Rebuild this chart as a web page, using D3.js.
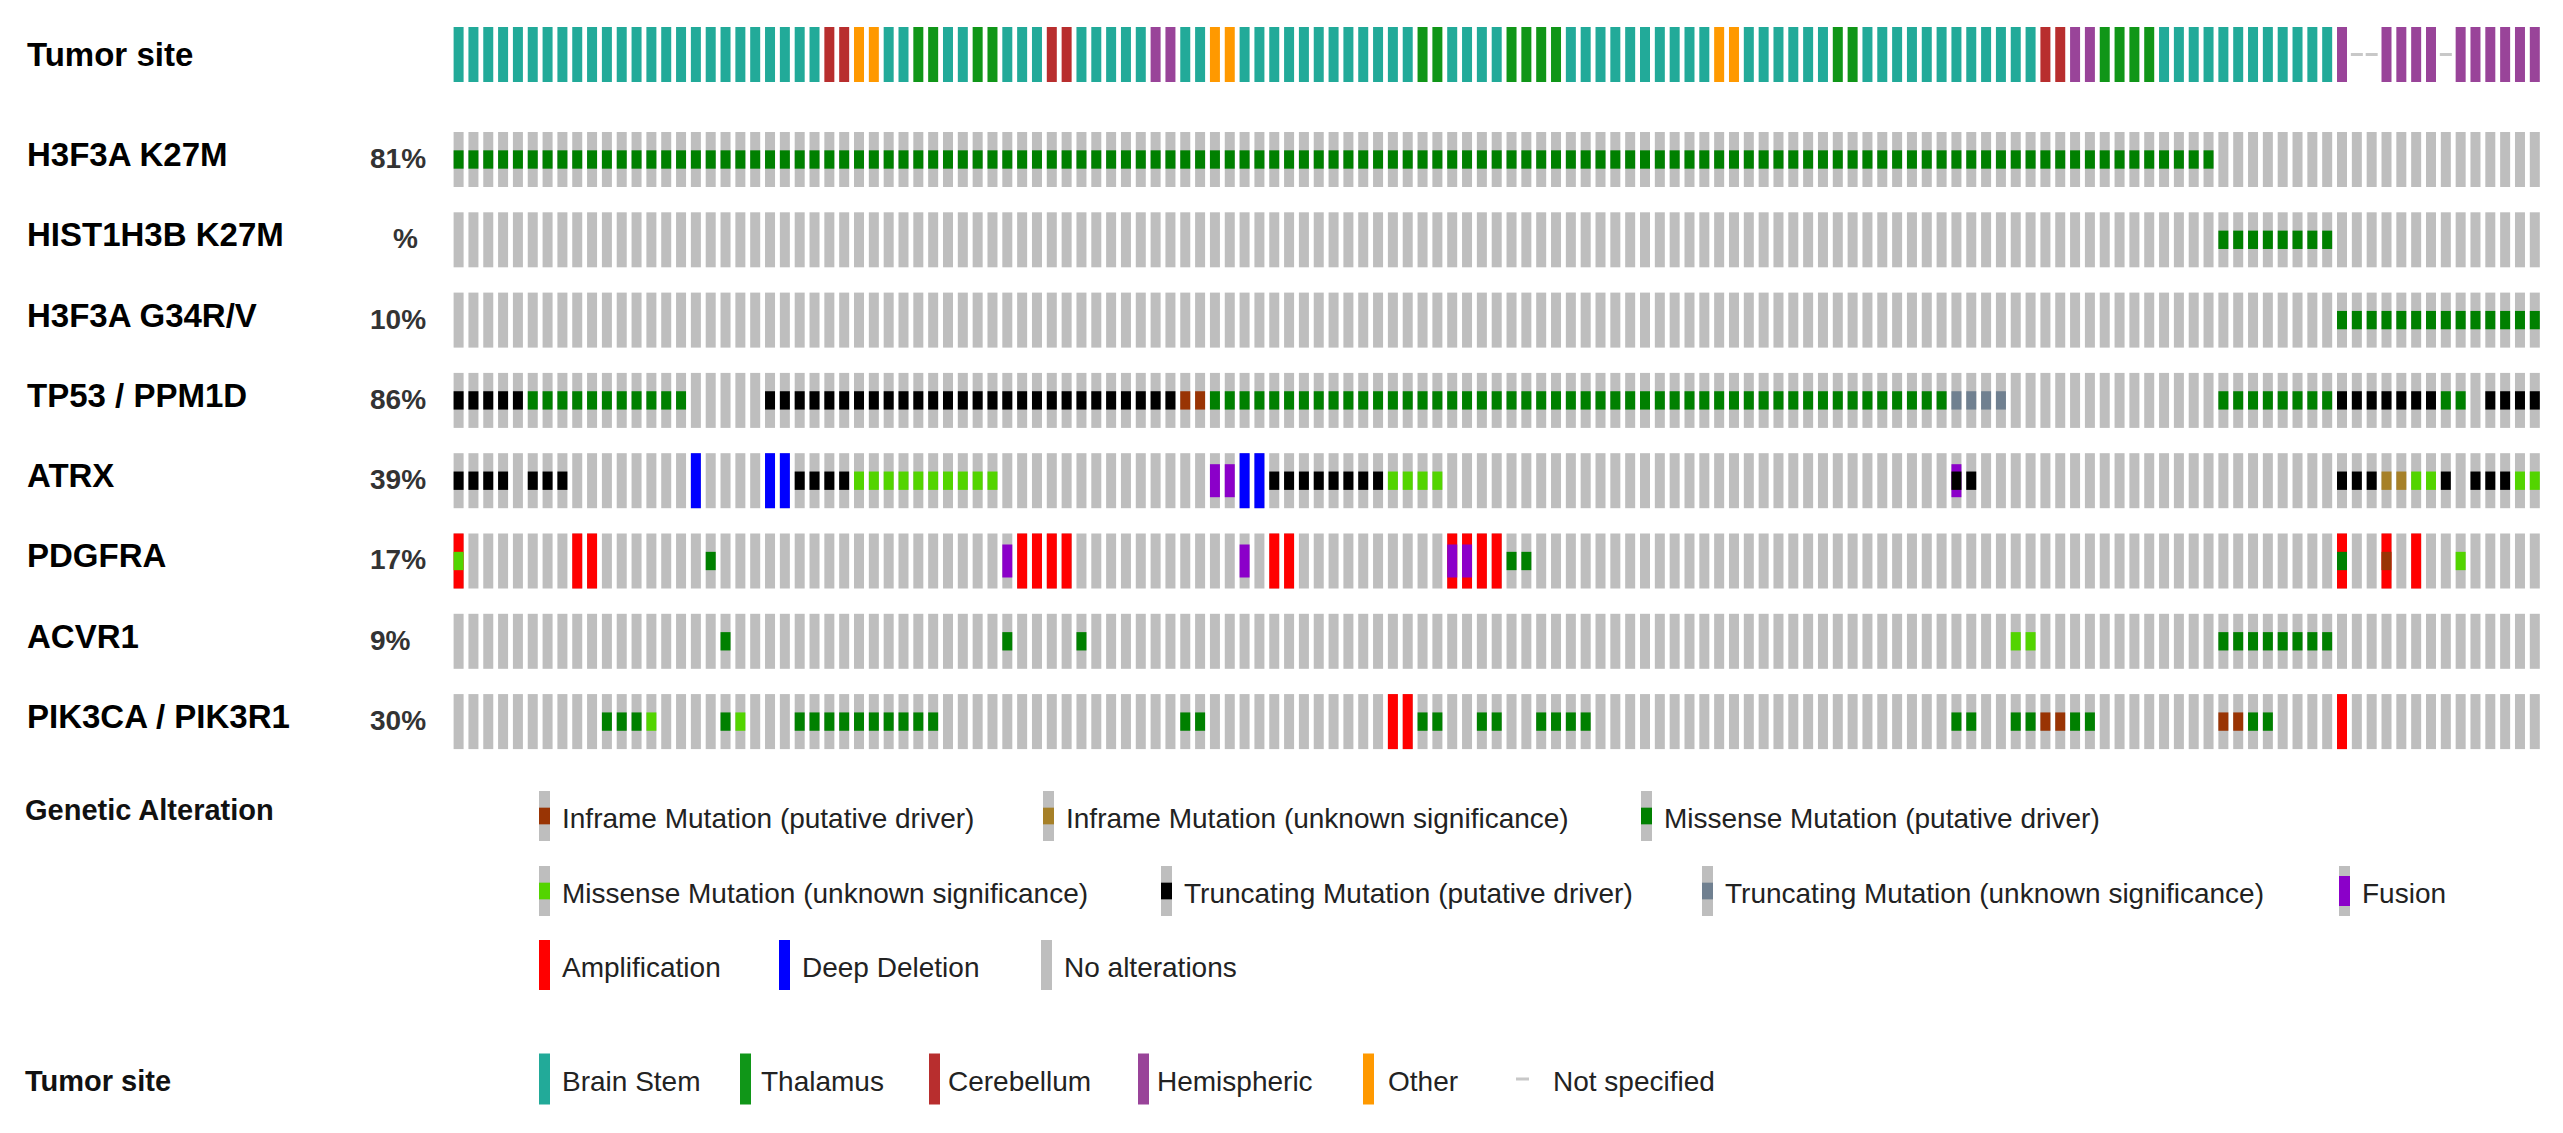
<!DOCTYPE html>
<html>
<head>
<meta charset="utf-8">
<script src="https://cdn.jsdelivr.net/npm/d3@7"></script>
<style>
  html, body { margin: 0; padding: 0; background: #ffffff; }
  svg { display: block; }
  text { font-family: "Liberation Sans", Arial, Helvetica, sans-serif; }
</style>
</head>
<body>
<svg id="chart" width="2563" height="1133"></svg>
<script>
// ================= DATA =================
const sampleCount = 141;

const geneLabels = ["H3F3A K27M", "HIST1H3B K27M", "H3F3A G34R/V", "TP53 / PPM1D",
                    "ATRX", "PDGFRA", "ACVR1", "PIK3CA / PIK3R1"];
const pctLabels  = ["81%", "%", "10%", "86%", "39%", "17%", "9%", "30%"];

// Tumor site per sample, as runs [site, number of consecutive samples]
const tumorSiteRuns = [
  ["Brain Stem",25],["Cerebellum",2],["Other",2],["Brain Stem",2],["Thalamus",2],
  ["Brain Stem",2],["Thalamus",2],["Brain Stem",3],["Cerebellum",2],["Brain Stem",5],
  ["Hemispheric",2],["Brain Stem",2],["Other",2],["Brain Stem",12],["Thalamus",2],
  ["Brain Stem",4],["Thalamus",4],["Brain Stem",10],["Other",2],["Brain Stem",6],
  ["Thalamus",2],["Brain Stem",12],["Cerebellum",2],["Hemispheric",2],["Thalamus",4],
  ["Brain Stem",12],["Hemispheric",1],["Not specified",2],["Hemispheric",4],
  ["Not specified",1],["Hemispheric",6]
];

// Mutation layer per gene, runs [type, count]
// MIS missense putative, mis missense unknown, TRU truncating putative,
// tru truncating unknown, INF inframe putative, inf inframe unknown, "-" none
const mutH3F3A_K27M = [["MIS",119],["-",22]];
const mutHIST1H3B   = [["-",119],["MIS",8],["-",14]];
const mutH3F3A_G34  = [["-",127],["MIS",14]];
const mutTP53       = [["TRU",5],["MIS",11],["-",5],["TRU",28],["INF",2],["MIS",50],
                       ["tru",4],["-",14],["MIS",8],["TRU",7],["MIS",2],["-",1],["TRU",4]];
const mutATRX       = [["TRU",4],["-",1],["TRU",3],["-",15],["TRU",4],["mis",10],["-",18],
                       ["TRU",8],["mis",4],["-",34],["TRU",2],["-",24],["TRU",3],["inf",2],
                       ["mis",2],["TRU",1],["-",1],["TRU",3],["mis",2]];
const mutPDGFRA     = [["mis",1],["-",16],["MIS",1],["-",53],["MIS",2],["-",54],["MIS",1],
                       ["-",2],["INF",1],["-",4],["mis",1],["-",5]];
const mutACVR1      = [["-",18],["MIS",1],["-",18],["MIS",1],["-",4],["MIS",1],["-",62],
                       ["mis",2],["-",12],["MIS",8],["-",14]];
const mutPIK3CA     = [["-",10],["MIS",3],["mis",1],["-",4],["MIS",1],["mis",1],["-",3],
                       ["MIS",10],["-",16],["MIS",2],["-",14],["MIS",2],["-",2],["MIS",2],
                       ["-",2],["MIS",4],["-",24],["MIS",2],["-",2],["MIS",2],["INF",2],
                       ["MIS",2],["-",8],["INF",2],["MIS",2],["-",18]];

// Copy-number layer (AMP amplification, DEL deep deletion)
const cnaATRX   = [["-",16],["DEL",1],["-",4],["DEL",2],["-",30],["DEL",2],["-",86]];
const cnaPDGFRA = [["AMP",1],["-",7],["AMP",2],["-",28],["AMP",4],["-",13],["AMP",2],
                   ["-",10],["AMP",4],["-",56],["AMP",1],["-",2],["AMP",1],["-",1],
                   ["AMP",1],["-",8]];
const cnaPIK3CA = [["-",63],["AMP",2],["-",62],["AMP",1],["-",13]];

// Fusion layer
const fusATRX   = [["-",51],["FUS",2],["-",48],["FUS",1],["-",39]];
const fusPDGFRA = [["-",37],["FUS",1],["-",15],["FUS",1],["-",13],["FUS",2],["-",72]];

// Legends
const alterationLegend = [
  ["INF", "Inframe Mutation (putative driver)"],
  ["inf", "Inframe Mutation (unknown significance)"],
  ["MIS", "Missense Mutation (putative driver)"],
  ["mis", "Missense Mutation (unknown significance)"],
  ["TRU", "Truncating Mutation (putative driver)"],
  ["tru", "Truncating Mutation (unknown significance)"],
  ["FUS", "Fusion"],
  ["AMP", "Amplification"],
  ["DEL", "Deep Deletion"],
  ["NONE", "No alterations"]
];
const tumorLegend = ["Brain Stem", "Thalamus", "Cerebellum", "Hemispheric", "Other", "Not specified"];

// ================= STYLE =================
const altColors = {
  MIS: "#008000", mis: "#53d400", TRU: "#000000", tru: "#708090",
  INF: "#993404", inf: "#a68028", FUS: "#8b00c9", AMP: "#ff0000",
  DEL: "#0000ff", NONE: "#bebebe"
};
const siteColors = {
  "Brain Stem": "#22aa99", "Thalamus": "#109618", "Cerebellum": "#b82e2e",
  "Hemispheric": "#994499", "Other": "#ff9900", "Not specified": "#c8c8c8"
};

// ================= BUILD TABLE =================
function expand(runs) {
  const out = [];
  (runs || []).forEach(([v, n]) => { for (let k = 0; k < n; k++) out.push(v); });
  while (out.length < sampleCount) out.push("-");
  return out;
}
const tumorSite = expand(tumorSiteRuns);
const mutLayers = [mutH3F3A_K27M, mutHIST1H3B, mutH3F3A_G34, mutTP53, mutATRX, mutPDGFRA, mutACVR1, mutPIK3CA];
const cnaLayers = [null, null, null, null, cnaATRX, cnaPDGFRA, null, cnaPIK3CA];
const fusLayers = [null, null, null, null, fusATRX, fusPDGFRA, null, null];

const tracks = geneLabels.map((g, r) => ({
  gene: g, pct: pctLabels[r],
  mut: expand(mutLayers[r]), cna: expand(cnaLayers[r]), fus: expand(fusLayers[r])
}));

// ================= DRAW =================
const svg = d3.select("#chart");
svg.append("rect").attr("width", 2563).attr("height", 1133).attr("fill", "#fff");

const x = d3.scaleBand()
  .domain(d3.range(sampleCount))
  .range([453.6, 2539.8])
  .paddingInner(0.326)
  .paddingOuter(0);

const y = d3.scaleBand()
  .domain(geneLabels)
  .range([132, 749.1])
  .paddingInner(0.315)
  .paddingOuter(0);

const bw = x.bandwidth();
const bh = y.bandwidth();

// Tumor site track
const tumorTop = 27, tumorH = 55;
const tumorG = svg.append("g");
tumorG.selectAll("rect.site")
  .data(tumorSite.map((s, i) => ({ s, i })).filter(d => d.s !== "Not specified"))
  .join("rect")
  .attr("x", d => x(d.i)).attr("y", tumorTop)
  .attr("width", bw).attr("height", tumorH)
  .attr("fill", d => siteColors[d.s]);
tumorG.selectAll("rect.ns")
  .data(tumorSite.map((s, i) => ({ s, i })).filter(d => d.s === "Not specified"))
  .join("rect")
  .attr("x", d => x(d.i) - 1).attr("y", tumorTop + tumorH / 2 - 1.5)
  .attr("width", bw + 2).attr("height", 3)
  .attr("fill", siteColors["Not specified"]);

svg.append("text").attr("x", 27).attr("y", 66)
  .attr("font-size", 33).attr("font-weight", "bold").attr("fill", "#000")
  .text("Tumor site");

// Gene tracks
const trackG = svg.selectAll("g.track").data(tracks).join("g").attr("class", "track");

trackG.each(function (t) {
  const g = d3.select(this);
  const y0 = y(t.gene);
  const cells = d3.range(sampleCount);
  g.selectAll("rect.bg").data(cells).join("rect").attr("class", "bg")
    .attr("x", i => x(i)).attr("y", y0).attr("width", bw).attr("height", bh)
    .attr("fill", altColors.NONE);
  g.selectAll("rect.cna").data(cells.filter(i => t.cna[i] !== "-")).join("rect").attr("class", "cna")
    .attr("x", i => x(i)).attr("y", y0).attr("width", bw).attr("height", bh)
    .attr("fill", i => altColors[t.cna[i]]);
  g.selectAll("rect.fus").data(cells.filter(i => t.fus[i] !== "-")).join("rect").attr("class", "fus")
    .attr("x", i => x(i)).attr("y", y0 + bh * 0.2).attr("width", bw).attr("height", bh * 0.6)
    .attr("fill", altColors.FUS);
  g.selectAll("rect.mut").data(cells.filter(i => t.mut[i] !== "-")).join("rect").attr("class", "mut")
    .attr("x", i => x(i)).attr("y", y0 + bh / 3).attr("width", bw).attr("height", bh / 3)
    .attr("fill", i => altColors[t.mut[i]]);

  const yc = y0 + bh / 2;
  g.append("text").attr("x", 27).attr("y", yc + 6.5)
    .attr("font-size", 33).attr("font-weight", "bold").attr("fill", "#000")
    .text(t.gene);
  g.append("text").attr("x", t.pct === "%" ? 393 : 370).attr("y", yc + 8.5)
    .attr("font-size", 28).attr("font-weight", "bold").attr("fill", "#333")
    .text(t.pct);
});

// ================= LEGENDS =================
const legendRowsY = [816, 891, 965];
const legendRowOf = [0, 0, 0, 1, 1, 1, 1, 2, 2, 2];
const legendGlyphX = [539, 1043, 1641, 539, 1161, 1702, 2339, 539, 779, 1041];
const glyphW = 11, glyphH = 50;

svg.append("text").attr("x", 25).attr("y", 820)
  .attr("font-size", 29).attr("font-weight", "bold").attr("fill", "#111")
  .text("Genetic Alteration");

const legG = svg.append("g");
alterationLegend.forEach(([key, label], k) => {
  const cy = legendRowsY[legendRowOf[k]];
  const gx = legendGlyphX[k];
  const top = cy - glyphH / 2;
  if (key === "AMP" || key === "DEL") {
    legG.append("rect").attr("x", gx).attr("y", top).attr("width", glyphW).attr("height", glyphH).attr("fill", altColors[key]);
  } else {
    legG.append("rect").attr("x", gx).attr("y", top).attr("width", glyphW).attr("height", glyphH).attr("fill", altColors.NONE);
    if (key === "FUS") {
      legG.append("rect").attr("x", gx).attr("y", top + glyphH * 0.2).attr("width", glyphW).attr("height", glyphH * 0.6).attr("fill", altColors.FUS);
    } else if (key !== "NONE") {
      legG.append("rect").attr("x", gx).attr("y", top + glyphH / 3).attr("width", glyphW).attr("height", glyphH / 3).attr("fill", altColors[key]);
    }
  }
  legG.append("text").attr("x", gx + 23).attr("y", cy + 12)
    .attr("font-size", 28).attr("fill", "#222").text(label);
});

// Tumor site legend
const tumorLegY = 1079;
const tumorGlyphX = [539, 740, 929, 1138, 1363, 1516];
const tumorTextX  = [562, 761, 948, 1157, 1388, 1553];
svg.append("text").attr("x", 25).attr("y", tumorLegY + 12)
  .attr("font-size", 29).attr("font-weight", "bold").attr("fill", "#111")
  .text("Tumor site");
tumorLegend.forEach((site, k) => {
  if (site === "Not specified") {
    legG.append("rect").attr("x", tumorGlyphX[k]).attr("y", tumorLegY - 1.5)
      .attr("width", 13).attr("height", 3).attr("fill", siteColors[site]);
  } else {
    legG.append("rect").attr("x", tumorGlyphX[k]).attr("y", tumorLegY - 25.5)
      .attr("width", glyphW).attr("height", 51).attr("fill", siteColors[site]);
  }
  legG.append("text").attr("x", tumorTextX[k]).attr("y", tumorLegY + 12)
    .attr("font-size", 28).attr("fill", "#222").text(site);
});
</script>
</body>
</html>
